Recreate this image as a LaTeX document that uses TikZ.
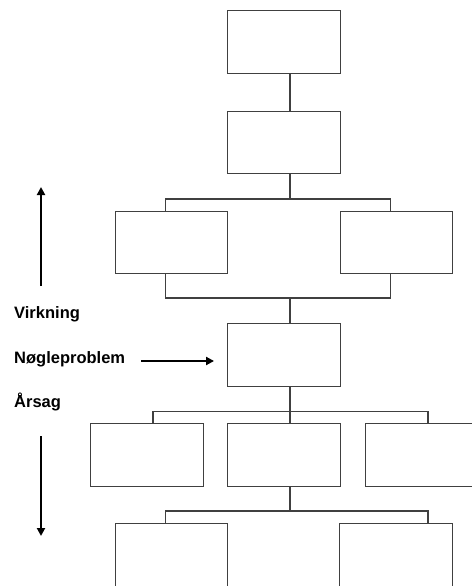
\documentclass[tikz,border=0pt]{standalone}
\usepackage{fontspec}
\setmainfont{Liberation Sans}
\usetikzlibrary{arrows.meta,positioning}
\tikzset{
    box/.style={draw=black!75,line width=1.4pt,minimum width=112.5pt,minimum height=62.5pt,inner sep=0pt},
    link/.style={draw=black!75,line width=1.4pt},
    arr/.style={line width=2pt,-{Triangle[length=8pt,width=8pt]}},
    lbl/.style={font=\bfseries\fontsize{16.5}{20}\selectfont,anchor=base west,inner sep=0pt}
}

\begin{document}
\begin{tikzpicture}[x=1pt,y=-1pt]
    \useasboundingbox (0,0) rectangle (471,586);

    % draw the boxes
    \node[box] (goal) at (284,42) {};
    \node[box] (effect) at (284,142.5) {};
    \node[box] (effl) at (171.5,242.5) {};
    \node[box] (effr) at (396.5,242.5) {};
    \node[box] (key) at (284,355) {};
    \node[box] (causel) at (147,455) {};
    \node[box] (causem) at (284,455) {};
    \node[box] (causer) at (422,455) {};
    \node[box] (subl) at (171.5,555) {};
    \node[box] (subr) at (396,555) {};

    % bus points
    \coordinate (bus1) at (290,199);
    \coordinate (bus2) at (290,298);
    \coordinate (bus3) at (290,411.5);
    \coordinate (bus4) at (290,511);

    % draw the connectors
    \draw[link] ([xshift=6]goal.south) -- ([xshift=6]effect.north);
    \draw[link] ([xshift=6]effect.south) -- (bus1);
    \draw[link] ([xshift=-6]effl.north) |- (bus1) -| ([xshift=-6]effr.north);
    \draw[link] ([xshift=-6]effl.south) |- (bus2) -| ([xshift=-6]effr.south);
    \draw[link] (bus2) -- ([xshift=6]key.north);
    \draw[link] ([xshift=6]key.south) -- ([xshift=6]causem.north);
    \draw[link] ([xshift=6]causel.north) |- (bus3) -| ([xshift=6]causer.north);
    \draw[link] ([xshift=6]causem.south) -- (bus4);
    \draw[link] ([xshift=-6]subl.north) |- (bus4) -| ([xshift=32]subr.north);

    % label the levels
    \node[lbl] (virk) at (14,318.5) {Virkning};
    \node[lbl] (nogle) at (14,363) {Nøgleproblem};
    \node[lbl] (arsag) at (14,407) {Årsag};

    % draw the arrows
    \coordinate (upfoot) at (41,286);
    \coordinate (uptip) at (41,187);
    \coordinate (downfoot) at (41,436);
    \coordinate (downtip) at (41,536);
    \coordinate (keyfoot) at ([shift={(16,-2)}]nogle.base east);
    \draw[arr] (upfoot) -- (uptip);
    \draw[arr] (downfoot) -- (downtip);
    \draw[arr,shorten >=13pt] (keyfoot) -- (keyfoot -| key.west);
\end{tikzpicture}
\end{document}
